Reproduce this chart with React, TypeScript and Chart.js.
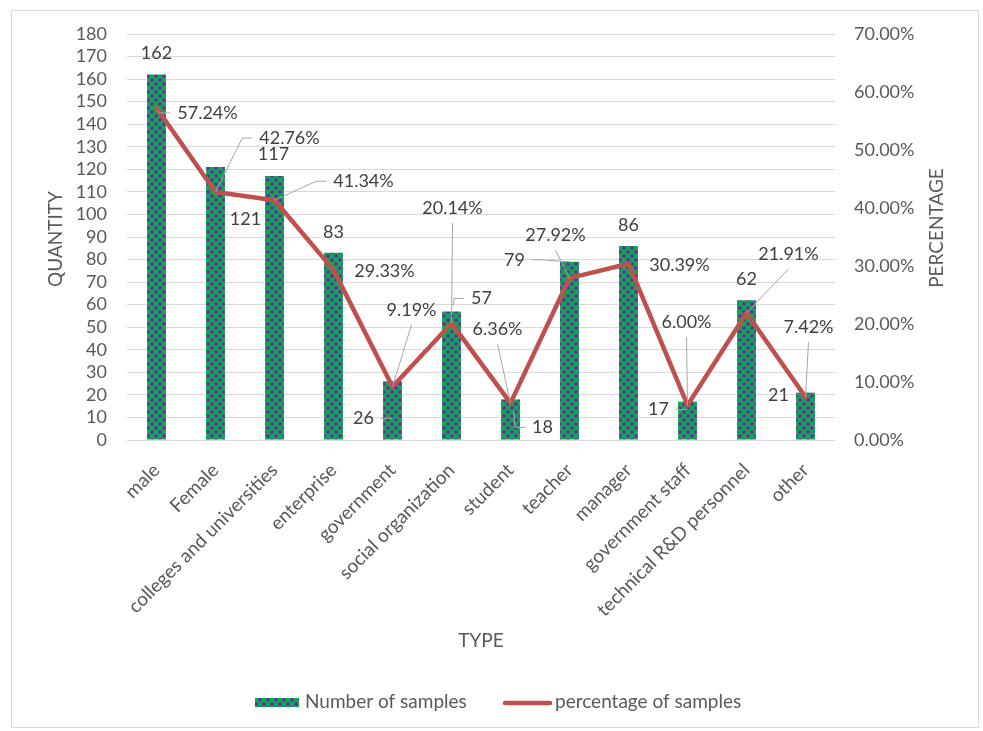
import React, { useEffect, useRef } from 'react';
import { Chart, registerables } from 'chart.js';

Chart.register(...registerables);

// ---------- data ----------
const categories = [
  'male',
  'Female',
  'colleges and universities',
  'enterprise',
  'government',
  'social organization',
  'student',
  'teacher',
  'manager',
  'government staff',
  'technical R&D personnel',
  'other',
];
const sampleCounts = [162, 121, 117, 83, 26, 57, 18, 79, 86, 17, 62, 21];
const samplePercents = [57.24, 42.76, 41.34, 29.33, 9.19, 20.14, 6.36, 27.92, 30.39, 6.0, 21.91, 7.42];

const quantityMax = 180;
const quantityStep = 10;
const percentMax = 70;
const percentStep = 10;

const seriesNames = ['Number of samples', 'percentage of samples'];
const axisTitles = { x: 'TYPE', left: 'QUANTITY', right: 'PERCENTAGE' };

// ---------- label layout (offsets from the mark, leader side) ----------
type Lay = { dx: number; dy: number; side?: 'L' | 'R' | 'B'; sx?: number; sy?: number };
const countLabelLayout: Lay[] = [
  { dx: 0, dy: -21 },
  { dx: 30, dy: 52 },
  { dx: -1, dy: -22 },
  { dx: 0, dy: -21 },
  { dx: -29, dy: 37, side: 'R', sx: 0, sy: 36 },
  { dx: 30, dy: -13, side: 'L', sx: 2, sy: -6 },
  { dx: 32, dy: 28, side: 'L', sx: 3, sy: 11 },
  { dx: -55, dy: -2, side: 'R' },
  { dx: 0, dy: -21 },
  { dx: -29, dy: 8, side: 'R', sx: 0, sy: 7 },
  { dx: 0, dy: -21 },
  { dx: -27, dy: 3 },
];
const percentLabelLayout: Lay[] = [
  { dx: 51, dy: 5, side: 'L', sx: 2, sy: 3 },
  { dx: 74, dy: -54, side: 'L' },
  { dx: 89, dy: -19, side: 'L' },
  { dx: 51, dy: 1 },
  { dx: 19, dy: -77, side: 'B' },
  { dx: 1, dy: -115, side: 'B' },
  { dx: -13, dy: -74, side: 'B' },
  { dx: -14, dy: -43, side: 'B' },
  { dx: 51, dy: 1 },
  { dx: -1, dy: -83, side: 'B' },
  { dx: 42, dy: -59, side: 'B' },
  { dx: 3, dy: -70, side: 'B' },
];

const FONT_FAMILY = 'Lato, "Open Sans", sans-serif';
const FONT_SIZE = 18;
const TEXT_FONT_SIZE = 19;
const AXIS_TEXT = '#595959';
const LABEL_TEXT = '#404040';
const GRID = '#D9D9D9';
const LEADER = '#A6A6A6';
const LINE_COLOR = '#C0504D';
const GREEN = '#00B050';
const PURPLE = '#7030A0';

function makePattern(ctx: CanvasRenderingContext2D): CanvasPattern | string {
  const c = document.createElement('canvas');
  const T = 8;
  c.width = T;
  c.height = T;
  const g = c.getContext('2d');
  if (!g) return GREEN;
  g.fillStyle = GREEN;
  g.fillRect(0, 0, T, T);
  g.fillStyle = PURPLE;
  const centers = [[4, 4], [0, 0], [8, 0], [0, 8], [8, 8]];
  for (let py = 0; py < T; py++) {
    for (let px = 0; px < T; px++) {
      const x = px + 0.5;
      const y = py + 0.5;
      const inside = centers.some(([cx, cy]) => Math.abs(x - cx) + Math.abs(y - cy) <= 2);
      if (inside) g.fillRect(px, py, 1, 1);
    }
  }
  return ctx.createPattern(c, 'repeat') || GREEN;
}

export default function App() {
  const canvasRef = useRef<HTMLCanvasElement | null>(null);

  useEffect(() => {
    const canvas = canvasRef.current;
    if (!canvas) return;
    const ctx0 = canvas.getContext('2d') as CanvasRenderingContext2D;
    const pattern = makePattern(ctx0);
    const font = `${FONT_SIZE}px ${FONT_FAMILY}`;
    const textFont = `${TEXT_FONT_SIZE}px ${FONT_FAMILY}`;

    const drawLabel = (
      ctx: CanvasRenderingContext2D,
      text: string,
      ax: number,
      ay: number,
      lay: Lay
    ) => {
      const cx = ax + lay.dx;
      const cy = ay + lay.dy;
      const w = ctx.measureText(text).width;
      if (lay.side) {
        const sx = ax + (lay.sx || 0);
        const sy = ay + (lay.sy || 0);
        ctx.beginPath();
        ctx.moveTo(sx, sy);
        if (lay.side === 'L') {
          ctx.lineTo(cx - w / 2 - 17, cy);
          ctx.lineTo(cx - w / 2 - 7, cy);
        } else if (lay.side === 'R') {
          ctx.lineTo(cx + w / 2 + 17, cy);
          ctx.lineTo(cx + w / 2 + 7, cy);
        } else {
          ctx.lineTo(cx, cy + 15);
        }
        ctx.strokeStyle = LEADER;
        ctx.lineWidth = 1;
        ctx.stroke();
      }
      ctx.fillStyle = LABEL_TEXT;
      ctx.fillText(text, cx, cy);
    };

    const labelPlugin = {
      id: 'customLabels',
      afterDatasetsDraw(chart: any) {
        const ctx: CanvasRenderingContext2D = chart.ctx;
        const barMeta = chart.getDatasetMeta(0);
        const lineMeta = chart.getDatasetMeta(1);
        ctx.save();
        ctx.font = font;
        ctx.textAlign = 'center';
        ctx.textBaseline = 'middle';
        barMeta.data.forEach((el: any, i: number) => {
          drawLabel(ctx, String(sampleCounts[i]), el.x, el.y, countLabelLayout[i]);
        });
        lineMeta.data.forEach((el: any, i: number) => {
          drawLabel(ctx, samplePercents[i].toFixed(2) + '%', el.x, el.y, percentLabelLayout[i]);
        });
        ctx.restore();
      },
      afterDraw(chart: any) {
        const ctx: CanvasRenderingContext2D = chart.ctx;
        const area = chart.chartArea;
        ctx.save();
        ctx.font = textFont;
        ctx.fillStyle = AXIS_TEXT;
        ctx.textAlign = 'center';
        ctx.textBaseline = 'middle';
        const midY = (area.top + area.bottom) / 2;
        ctx.save();
        ctx.translate(56, midY + 2);
        ctx.rotate(-Math.PI / 2);
        ctx.fillText(axisTitles.left, 0, 0);
        ctx.restore();
        ctx.save();
        ctx.translate(937, midY - 9);
        ctx.rotate(-Math.PI / 2);
        ctx.fillText(axisTitles.right, 0, 0);
        ctx.restore();
        ctx.fillText(axisTitles.x, 481, 641);
        // legend
        ctx.textAlign = 'left';
        ctx.fillStyle = pattern as any;
        ctx.fillRect(255, 698, 44, 9);
        ctx.fillStyle = AXIS_TEXT;
        ctx.fillText(seriesNames[0], 305, 702);
        ctx.beginPath();
        ctx.moveTo(505, 703);
        ctx.lineTo(550, 703);
        ctx.strokeStyle = LINE_COLOR;
        ctx.lineWidth = 4.5;
        ctx.lineCap = 'round';
        ctx.stroke();
        ctx.fillText(seriesNames[1], 555, 702);
        ctx.restore();
      },
    };

    const chart = new Chart(canvas, {
      type: 'bar',
      data: {
        labels: categories,
        datasets: [
          {
            type: 'bar',
            label: seriesNames[0],
            data: sampleCounts,
            backgroundColor: pattern as any,
            borderWidth: 0,
            yAxisID: 'y',
            order: 2,
            barPercentage: 0.32,
            categoryPercentage: 1,
          },
          {
            type: 'line',
            label: seriesNames[1],
            data: samplePercents,
            borderColor: LINE_COLOR,
            backgroundColor: LINE_COLOR,
            borderWidth: 4.5,
            pointRadius: 0,
            tension: 0,
            borderJoinStyle: 'round',
            borderCapStyle: 'round',
            yAxisID: 'y1',
            order: 1,
          },
        ] as any,
      },
      options: {
        responsive: false,
        animation: false,
        devicePixelRatio: 1,
        layout: { padding: { top: 34, left: 0, right: 0, bottom: 0 } },
        plugins: {
          legend: { display: false },
          tooltip: { enabled: false },
        },
        scales: {
          x: {
            offset: true,
            grid: { display: false, drawTicks: false },
            border: { display: false },
            ticks: {
              font: { family: FONT_FAMILY, size: TEXT_FONT_SIZE },
              color: AXIS_TEXT,
              minRotation: 45,
              maxRotation: 45,
              autoSkip: false,
              padding: 19,
            },
            afterFit: (s: any) => {
              s.height = 291;
            },
          },
          y: {
            position: 'left',
            min: 0,
            max: quantityMax,
            ticks: {
              stepSize: quantityStep,
              autoSkip: false,
              padding: 20,
              font: { family: FONT_FAMILY, size: FONT_SIZE },
              color: AXIS_TEXT,
            },
            grid: { color: GRID, drawTicks: false, lineWidth: 1 },
            border: { display: false },
            afterFit: (s: any) => {
              s.width = 127;
            },
          },
          y1: {
            position: 'right',
            min: 0,
            max: percentMax,
            ticks: {
              stepSize: percentStep,
              autoSkip: false,
              padding: 19,
              font: { family: FONT_FAMILY, size: FONT_SIZE },
              color: AXIS_TEXT,
              callback: (v: any) => Number(v).toFixed(2) + '%',
            },
            grid: { display: false, drawTicks: false },
            border: { display: false },
            afterFit: (s: any) => {
              s.width = 148;
            },
          },
        },
      } as any,
      plugins: [labelPlugin],
    });

    return () => chart.destroy();
  }, []);

  return (
    <div style={{ position: 'absolute', left: 0, top: 0, width: 983, height: 731, background: '#fff' }}>
      <div
        style={{
          position: 'absolute',
          left: 11,
          top: 10,
          width: 968,
          height: 718,
          border: '1px solid #D9D9D9',
          boxSizing: 'border-box',
        }}
      />
      <canvas
        ref={canvasRef}
        width={983}
        height={731}
        style={{ position: 'absolute', left: 0, top: 0, width: 983, height: 731 }}
      />
    </div>
  );
}
